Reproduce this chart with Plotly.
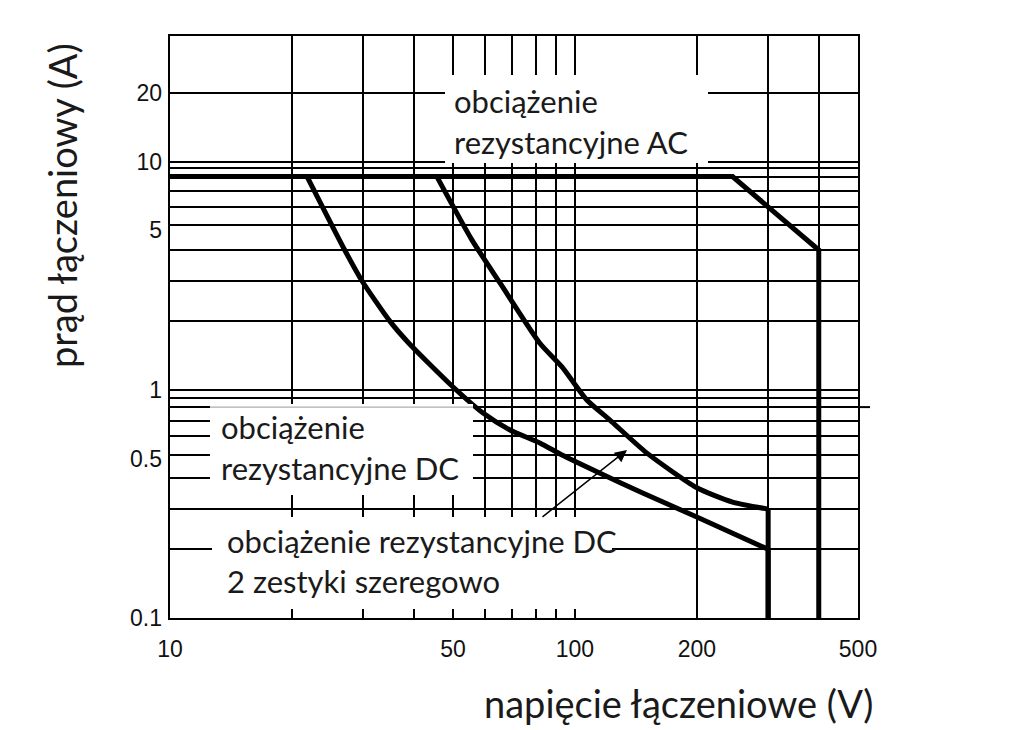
import numpy as np
import plotly.graph_objects as go

# ---------------- data ----------------
# AC resistive load
ac_v = [10, 245, 400, 400]
ac_i = [8.6, 8.6, 4.1, 0.1]
# DC resistive load (curved part, then drop at 300 V)
dc_v = [45.6, 55.7, 65.3, 81.9, 92.9, 107, 122, 150.6, 200, 245, 300]
dc_i = [8.6, 4.53, 2.94, 1.60, 1.26, 0.902, 0.737, 0.528, 0.372, 0.322, 0.30]
dc_drop_v = [300, 300]
dc_drop_i = [0.30, 0.1]
# DC resistive load, 2 contacts in series
dc2_v = [21.8, 27.0, 29.8, 34.9, 38.9, 49.4, 59.3, 69.1, 81.9, 92.9, 115, 147, 200, 300]
dc2_i = [8.6, 4.1, 3.0, 2.0, 1.60, 1.05, 0.791, 0.667, 0.585, 0.518, 0.432, 0.353, 0.277, 0.2]
dc2_drop_v = [300, 300]
dc2_drop_i = [0.2, 0.1]

# axis ticks / grid
x_tick_vals = [10, 50, 100, 200, 500]
x_tick_text = ["10", "50", "100", "200", "500"]
x_minor_grid = [20, 30, 40, 60, 70, 80, 90, 300, 400]
y_tick_vals = [0.1, 0.5, 1, 5, 10, 20]
y_tick_text = ["0.1", "0.5", "1", "5", "10", "20"]
y_grid = [0.2, 0.3, 0.41, 0.52, 0.63, 0.73, 0.84, 0.92, 1, 2.0, 3.0, 4.1, 5.3, 6.3, 7.4, 8.6, 9.4, 10, 20]

# ---------------- layout geometry ----------------
W, H = 1024, 730
L, R, T, B = 170, 166, 36, 112
PW, PH = W - L - R, H - T - B
X_RANGE = [1, np.log10(500)]
Y_RANGE = [-1, 1.5506]


def px2x(px):
    return (px - L) / PW


def py2y(py):
    return (H - B - py) / PH


def val2y(v):
    return (np.log10(v) - Y_RANGE[0]) / (Y_RANGE[1] - Y_RANGE[0])


TXT_FONT = dict(family="Lato, 'Noto Sans', sans-serif", size=31, color="#1a1a1a")
TITLE_FONT = dict(family="Lato, 'Noto Sans', sans-serif", size=38, color="#1a1a1a")
TICK_FONT = dict(family="'Liberation Sans', Arial, sans-serif", size=23, color="#111")

fig = go.Figure()
line_style = dict(color="black", width=5)
fig.add_trace(go.Scatter(x=ac_v, y=ac_i, mode="lines", line=line_style,
                         hoverinfo="skip", showlegend=False))
for xs, ys in [(dc_v, dc_i), (dc2_v, dc2_i)]:
    fig.add_trace(go.Scatter(x=xs, y=ys, mode="lines",
                             line=dict(color="black", width=5, shape="spline", smoothing=0.6),
                             hoverinfo="skip", showlegend=False))
for xs, ys in [(dc_drop_v, dc_drop_i), (dc2_drop_v, dc2_drop_i)]:
    fig.add_trace(go.Scatter(x=xs, y=ys, mode="lines", line=line_style,
                             hoverinfo="skip", showlegend=False))
# invisible trace to activate the label axis
fig.add_trace(go.Scatter(x=[10], y=[1], yaxis="y2", mode="markers",
                         marker=dict(opacity=0), hoverinfo="skip", showlegend=False))

shapes = []
# white label boxes (cover the grid)
for x0, x1, y0, y1 in [(445, 708, 75, 163), (210, 473, 404, 495), (212, 612, 517, 609)]:
    shapes.append(dict(type="rect", xref="paper", yref="paper",
                       x0=px2x(x0), x1=px2x(x1), y0=py2y(y1), y1=py2y(y0),
                       fillcolor="white", line=dict(width=0), layer="above"))
# faint top edge of the DC box
shapes.append(dict(type="line", xref="paper", yref="paper",
                   x0=px2x(210), x1=px2x(473), y0=val2y(0.84), y1=val2y(0.84),
                   line=dict(color="#999", width=1), layer="above"))
# grid line that runs past the right border
shapes.append(dict(type="line", xref="paper", yref="paper",
                   x0=1.0, x1=px2x(870), y0=val2y(0.84), y1=val2y(0.84),
                   line=dict(color="black", width=2), layer="above"))

annotations = []
for txt, px, py in [("obciążenie", 452, 101), ("rezystancyjne AC", 452, 142),
                    ("obciążenie", 219, 427), ("rezystancyjne DC", 219, 468),
                    ("obciążenie rezystancyjne DC", 225, 541),
                    ("2 zestyki szeregowo", 225, 581)]:
    annotations.append(dict(text=txt, xref="paper", yref="paper", x=px2x(px), y=py2y(py),
                            xanchor="left", yanchor="middle", showarrow=False, font=TXT_FONT))
# arrow
annotations.append(dict(text="", xref="paper", yref="paper", x=px2x(627), y=py2y(450),
                        ax=541 - 627, ay=518 - 450, showarrow=True, arrowhead=2,
                        arrowsize=1.6, arrowwidth=1.5, arrowcolor="black", standoff=0))
# axis titles
annotations.append(dict(text="napięcie łączeniowe (V)", xref="paper", yref="paper",
                        x=px2x(678), y=py2y(703), xanchor="center", yanchor="middle",
                        showarrow=False, font=TITLE_FONT))
annotations.append(dict(text="prąd łączeniowy (A)", xref="paper", yref="paper",
                        x=px2x(62), y=py2y(206), xanchor="center", yanchor="middle",
                        textangle=-90, showarrow=False, font=TITLE_FONT))

fig.update_layout(
    width=W, height=H,
    margin=dict(l=L, r=R, t=T, b=B, pad=0),
    paper_bgcolor="white", plot_bgcolor="white",
    showlegend=False,
    xaxis=dict(type="log", range=X_RANGE, tickvals=x_tick_vals, ticktext=x_tick_text,
               showgrid=True, gridcolor="black", gridwidth=2,
               minor=dict(tickvals=x_minor_grid, showgrid=True, gridcolor="black",
                          gridwidth=2, ticks=""),
               showline=True, mirror=True, linecolor="black", linewidth=2,
               zeroline=False, ticks="", ticklabelstandoff=9, tickfont=TICK_FONT),
    yaxis=dict(type="log", range=Y_RANGE, tickvals=y_grid, showticklabels=False,
               showgrid=True, gridcolor="black", gridwidth=2,
               showline=True, mirror=True, linecolor="black", linewidth=2,
               zeroline=False, ticks=""),
    yaxis2=dict(type="log", range=Y_RANGE, overlaying="y", side="left", anchor="x",
                tickvals=y_tick_vals, ticktext=y_tick_text, showgrid=False,
                showline=False, zeroline=False, ticks="", ticklabelstandoff=7,
                tickfont=TICK_FONT),
    shapes=shapes,
    annotations=annotations,
)

fig.write_html("out.html")
